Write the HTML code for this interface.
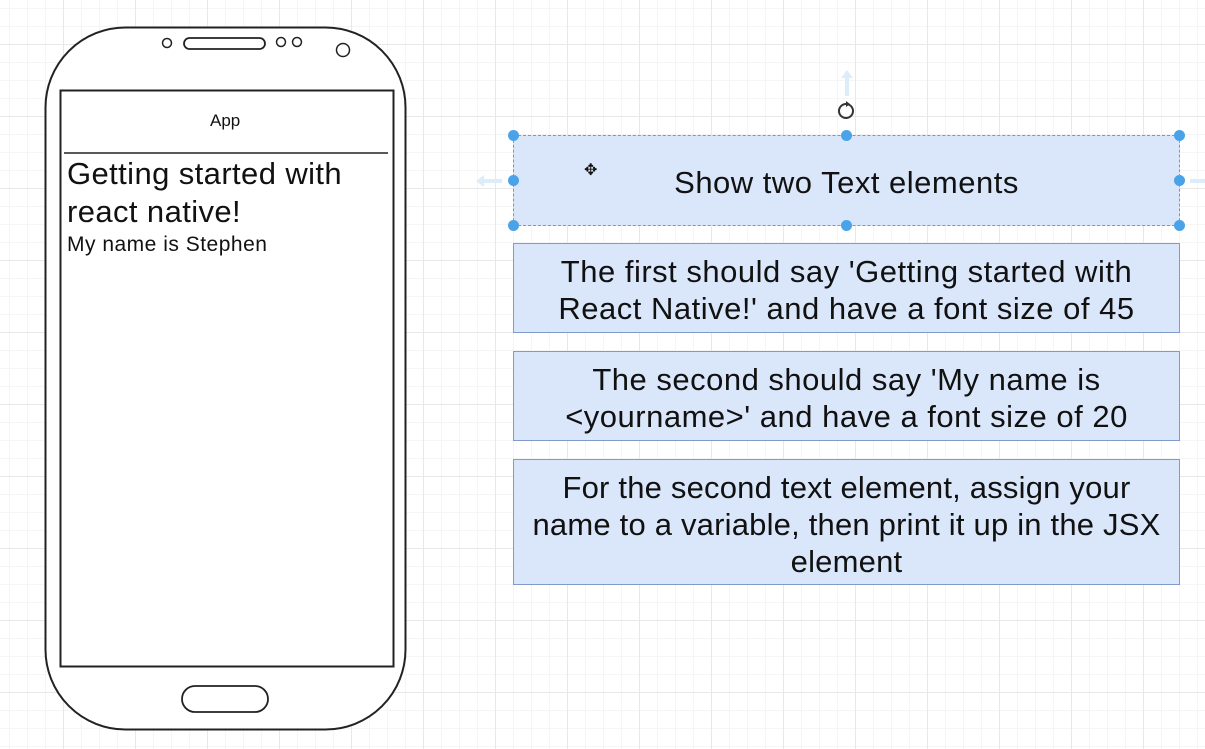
<!DOCTYPE html>
<html><head><meta charset="utf-8"><style>
html,body{margin:0;padding:0}
body{width:1205px;height:749px;position:relative;overflow:hidden;background:#fff;font-family:"Liberation Sans",Arial,sans-serif;
background-image:
linear-gradient(to right,#e8e8e8 1px,transparent 1px),
linear-gradient(to bottom,#e8e8e8 1px,transparent 1px),
linear-gradient(to right,#f5f5f5 1px,transparent 1px),
linear-gradient(to bottom,#f5f5f5 1px,transparent 1px);
background-size:72px 72px,72px 72px,18px 18px,18px 18px;
background-position:63px 0,0 44px,9px 0,0 8px;}
.box{position:absolute;left:513px;width:667px;background:#dae6fa;border:1.5px solid #7f9bc9;box-sizing:border-box;display:flex;align-items:center;justify-content:center;text-align:center;font-size:31px;line-height:37px;letter-spacing:0.5px;color:#111;white-space:nowrap;padding-top:4px}
.t{position:absolute;color:#111;white-space:nowrap}
.h{position:absolute;width:11px;height:11px;border-radius:50%;background:#4aa3e8}
</style></head><body>
<svg width="1205" height="749" style="position:absolute;left:0;top:0">
<rect x="45.5" y="27.5" width="360" height="702" rx="80" ry="80" fill="#fff" stroke="#222" stroke-width="2"/>
<rect x="60.5" y="90.5" width="333" height="576" fill="#fff" stroke="#222" stroke-width="2"/>
<line x1="64" y1="153" x2="388" y2="153" stroke="#222" stroke-width="1.5"/>
<circle cx="167" cy="43" r="4.5" fill="none" stroke="#222" stroke-width="1.5"/>
<rect x="184" y="38" width="81" height="11" rx="5.5" fill="none" stroke="#222" stroke-width="1.8"/>
<circle cx="281" cy="42" r="4.5" fill="none" stroke="#222" stroke-width="1.5"/>
<circle cx="297" cy="42" r="4.5" fill="none" stroke="#222" stroke-width="1.5"/>
<circle cx="343" cy="50" r="6.5" fill="none" stroke="#222" stroke-width="1.5"/>
<rect x="182" y="686" width="86" height="26" rx="13" fill="none" stroke="#222" stroke-width="1.8"/>
<path d="M847 70 L841 78 H845 V96 H849 V78 H853 Z" fill="#dcecfb"/>
<path d="M476 181 L484 175 V179 H502 V183 H484 V187 Z" fill="#dcecfb"/>
<rect x="1190" y="179" width="15" height="4" fill="#dcecfb"/>
<circle cx="846" cy="111" r="7" fill="none" stroke="#333" stroke-width="2"/>
<path d="M846 101 l4 3 -4 3z" fill="#333"/>
</svg>
<div class="t" style="left:210px;top:111px;font-size:17px">App</div>
<div class="t" style="left:67px;top:155px;font-size:31px;line-height:38px;letter-spacing:0.4px">Getting started with<br>react native!</div>
<div class="t" style="left:67px;top:233px;font-size:21px;letter-spacing:0.5px">My name is Stephen</div>
<div class="box" style="top:135px;height:91px;border:1.5px dashed #6a9bd8">Show two Text elements</div>
<div class="t" style="left:584px;top:160px;font-size:16px">✥</div>
<div class="h" style="left:508px;top:130px"></div><div class="h" style="left:841px;top:130px"></div><div class="h" style="left:1174px;top:130px"></div>
<div class="h" style="left:508px;top:175px"></div><div class="h" style="left:1174px;top:175px"></div>
<div class="h" style="left:508px;top:220px"></div><div class="h" style="left:841px;top:220px"></div><div class="h" style="left:1174px;top:220px"></div>
<div class="box" style="top:243px;height:90px">The first should say 'Getting started with<br>React Native!' and have a font size of 45</div>
<div class="box" style="top:351px;height:90px">The second should say 'My name is<br>&lt;yourname&gt;' and have a font size of 20</div>
<div class="box" style="top:459px;height:126px;letter-spacing:0.2px">For the second text element, assign your<br>name to a variable, then print it up in the JSX<br>element</div>
</body></html>
